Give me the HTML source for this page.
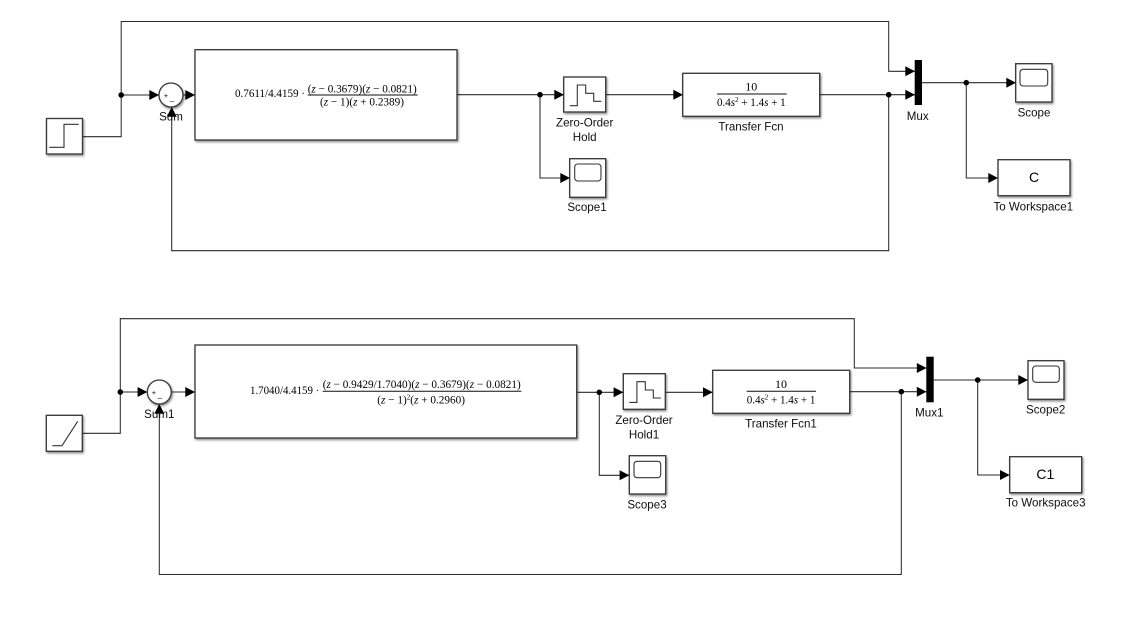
<!DOCTYPE html>
<html>
<head>
<meta charset="utf-8">
<style>
html,body{margin:0;padding:0;background:#fff;width:1128px;height:625px;overflow:hidden}
svg{display:block}
.l{fill:none;stroke:#2a2a2a;stroke-width:1.05}
.b{fill:#fff;stroke:#3a3a3a;stroke-width:1.35;filter:url(#sh)}
.i{fill:none;stroke:#333;stroke-width:1.1}
.t{font-family:"Liberation Sans",sans-serif;font-size:11.6px;fill:#111;text-anchor:middle}
.c{font-family:"Liberation Sans",sans-serif;font-size:14px;fill:#000;text-anchor:middle}
.m{font-family:"Liberation Serif",serif;font-size:12px;fill:#000}
.mc{font-family:"Liberation Serif",serif;font-size:12px;fill:#000;text-anchor:middle}
.f{stroke:#111;stroke-width:1}
</style>
</head>
<body>
<svg width="1128" height="625" viewBox="0 0 1128 625" xmlns="http://www.w3.org/2000/svg">
<defs>
<filter id="sh" x="-20%" y="-20%" width="140%" height="140%"><feDropShadow dx="1" dy="1.5" stdDeviation="1" flood-color="#000" flood-opacity="0.45"/></filter>
<filter id="soft" filterUnits="userSpaceOnUse" x="0" y="0" width="1128" height="625"><feGaussianBlur stdDeviation="0.36"/></filter>
<polygon id="r" points="-9.7,-5 0,0 -9.7,5" fill="#000"/>
<polygon id="u" points="-5,9.7 0,0 5,9.7" fill="#000"/>
</defs>
<g filter="url(#soft)">

<!-- TOP DIAGRAM: wires -->
<path class="l" d="M82 136.7H121.2V21.5H888.7V71.3H915"/>
<path class="l" d="M121.2 95H159"/>
<path class="l" d="M183 95H195"/>
<path class="l" d="M457 94.7H564"/>
<path class="l" d="M540 94.7V178H570"/>
<path class="l" d="M605.7 94.7H683"/>
<path class="l" d="M819.7 94.7H915"/>
<path class="l" d="M888.7 94.7V250.7H171.7V107"/>
<path class="l" d="M922 82.7H1016"/>
<path class="l" d="M966.3 82.7V178H998"/>

<!-- TOP blocks -->
<rect class="b" x="46.5" y="118.5" width="36" height="35.5"/>
<path class="i" d="M49.3 147.3H64V124.3H78.7"/>
<rect class="b" x="195" y="49.7" width="262" height="90.3"/>
<circle class="b" cx="171" cy="95" r="12"/>
<text x="166" y="98" font-family="Liberation Sans,sans-serif" font-size="7.5" fill="#111" text-anchor="middle">+</text>
<text x="172" y="100" font-family="Liberation Sans,sans-serif" font-size="8" fill="#111" text-anchor="middle">_</text>
<rect class="b" x="563.7" y="77" width="42" height="35"/>
<path class="i" d="M569.7 105.7H577.3V85H585.7V93.3H593.7V101.3H601.3"/>
<rect class="b" x="569.7" y="158.7" width="36" height="38.6"/>
<rect class="i" x="574.7" y="164" width="26.3" height="17" rx="3" stroke-width="1.2"/>
<rect class="b" x="682.7" y="73.3" width="137" height="43"/>
<rect x="914.7" y="60" width="7.3" height="45" fill="#000"/>
<rect class="b" x="1015.7" y="63.7" width="36.3" height="38.3"/>
<rect class="i" x="1020" y="69.3" width="27.7" height="16.7" rx="3" stroke-width="1.2"/>
<rect class="b" x="998" y="159.7" width="72" height="36"/>

<!-- TOP formula -->
<text class="m" x="235" y="97" textLength="70" lengthAdjust="spacingAndGlyphs">0.7611/4.4159 ·</text>
<text class="m" x="307.7" y="92.5" textLength="109" lengthAdjust="spacingAndGlyphs">(<tspan font-style="italic">z</tspan> − 0.3679)(<tspan font-style="italic">z</tspan> − 0.0821)</text>
<line class="f" x1="307.7" y1="95" x2="417.7" y2="95"/>
<text class="m" x="320" y="105.5" textLength="84" lengthAdjust="spacingAndGlyphs">(<tspan font-style="italic">z</tspan> − 1)(<tspan font-style="italic">z</tspan> + 0.2389)</text>
<text class="mc" x="751.3" y="90.5">10</text>
<line class="f" x1="717" y1="94" x2="786.7" y2="94"/>
<text class="m" x="717" y="106" textLength="68.7" lengthAdjust="spacingAndGlyphs">0.4<tspan font-style="italic">s</tspan><tspan font-size="7.5" dy="-4">2</tspan><tspan dy="4"> + 1.4</tspan><tspan font-style="italic">s</tspan> + 1</text>

<!-- TOP labels -->
<text class="t" x="171" y="120.7">Sum</text>
<text class="t" x="584.7" y="126.7">Zero-Order</text>
<text class="t" x="584.7" y="141">Hold</text>
<text class="t" x="587" y="211">Scope1</text>
<text class="t" x="751" y="130.7">Transfer Fcn</text>
<text class="t" x="917.7" y="120">Mux</text>
<text class="t" x="1034" y="116.3">Scope</text>
<text class="c" x="1034" y="182">C</text>
<text class="t" x="1033.3" y="210.3">To Workspace1</text>

<!-- TOP arrows -->
<use href="#r" x="159" y="95"/>
<use href="#r" x="195" y="95"/>
<use href="#u" x="171.7" y="107"/>
<use href="#r" x="564" y="94.7"/>
<use href="#r" x="570" y="178"/>
<use href="#r" x="683" y="94.7"/>
<use href="#r" x="915" y="71.3"/>
<use href="#r" x="915" y="94.7"/>
<use href="#r" x="1016" y="82.7"/>
<use href="#r" x="998" y="178"/>

<!-- TOP junctions -->
<circle cx="121.2" cy="95" r="2.8" fill="#000"/>
<circle cx="540" cy="94.7" r="2.8" fill="#000"/>
<circle cx="888.7" cy="94.7" r="2.8" fill="#000"/>
<circle cx="966.3" cy="82.7" r="2.8" fill="#000"/>

<!-- BOTTOM DIAGRAM: wires -->
<path class="l" d="M82.3 433.3H120.3V318.7H854.3V368H927"/>
<path class="l" d="M120.3 392H147.3"/>
<path class="l" d="M171.3 392H195"/>
<path class="l" d="M576.7 392.3H623.3"/>
<path class="l" d="M599.3 392.3V475.3H629.3"/>
<path class="l" d="M665.3 392.3H712.7"/>
<path class="l" d="M849.7 391.7H926.3"/>
<path class="l" d="M901.3 391.7V574.5H159.3V404"/>
<path class="l" d="M933.7 380H1028"/>
<path class="l" d="M977.7 380V475H1009.7"/>

<!-- BOTTOM blocks -->
<rect class="b" x="46.3" y="415.3" width="36" height="36"/>
<path class="i" d="M52.3 445.7H62L77.7 421.3"/>
<rect class="b" x="195" y="345" width="381.7" height="93"/>
<circle class="b" cx="159.3" cy="392" r="12"/>
<text x="154" y="395" font-family="Liberation Sans,sans-serif" font-size="7.5" fill="#111" text-anchor="middle">+</text>
<text x="160" y="397" font-family="Liberation Sans,sans-serif" font-size="8" fill="#111" text-anchor="middle">_</text>
<rect class="b" x="623.3" y="373.7" width="42" height="35.6"/>
<path class="i" d="M629.3 402.4H636.9V381.7H645.3V390H653.3V398H660.9"/>
<rect class="b" x="629.3" y="455.7" width="36.4" height="38.3"/>
<rect class="i" x="634" y="461.3" width="26.7" height="16.4" rx="3" stroke-width="1.2"/>
<rect class="b" x="712.7" y="370.3" width="137" height="43"/>
<rect x="926.3" y="356.7" width="7.4" height="45.6" fill="#000"/>
<rect class="b" x="1028" y="360.7" width="36" height="38.6"/>
<rect class="i" x="1032.7" y="366" width="26.6" height="16.3" rx="3" stroke-width="1.2"/>
<rect class="b" x="1009.7" y="456.7" width="72" height="36"/>

<!-- BOTTOM formula -->
<text class="m" x="250" y="394" textLength="69.3" lengthAdjust="spacingAndGlyphs">1.7040/4.4159 ·</text>
<text class="m" x="322.7" y="388" textLength="198" lengthAdjust="spacingAndGlyphs">(<tspan font-style="italic">z</tspan> − 0.9429/1.7040)(<tspan font-style="italic">z</tspan> − 0.3679)(<tspan font-style="italic">z</tspan> − 0.0821)</text>
<line class="f" x1="322.7" y1="391.3" x2="521.3" y2="391.3"/>
<text class="m" x="377.3" y="403.3" textLength="87.7" lengthAdjust="spacingAndGlyphs">(<tspan font-style="italic">z</tspan> − 1)<tspan font-size="7.5" dy="-4">2</tspan><tspan dy="4">(</tspan><tspan font-style="italic">z</tspan> + 0.2960)</text>
<text class="mc" x="781" y="388">10</text>
<line class="f" x1="746.7" y1="391.3" x2="816" y2="391.3"/>
<text class="m" x="746.7" y="403.3" textLength="68.7" lengthAdjust="spacingAndGlyphs">0.4<tspan font-style="italic">s</tspan><tspan font-size="7.5" dy="-4">2</tspan><tspan dy="4"> + 1.4</tspan><tspan font-style="italic">s</tspan> + 1</text>

<!-- BOTTOM labels -->
<text class="t" x="159.3" y="418">Sum1</text>
<text class="t" x="644" y="424">Zero-Order</text>
<text class="t" x="644" y="438.7">Hold1</text>
<text class="t" x="647" y="508.3">Scope3</text>
<text class="t" x="781" y="427.3">Transfer Fcn1</text>
<text class="t" x="929.3" y="416.3">Mux1</text>
<text class="t" x="1045.7" y="413.3">Scope2</text>
<text class="c" x="1045.3" y="479">C1</text>
<text class="t" x="1045.7" y="506.7">To Workspace3</text>

<!-- BOTTOM arrows -->
<use href="#r" x="147.3" y="392"/>
<use href="#r" x="195" y="392"/>
<use href="#u" x="159.3" y="404"/>
<use href="#r" x="623.3" y="392.3"/>
<use href="#r" x="629.3" y="475.3"/>
<use href="#r" x="712.7" y="392.3"/>
<use href="#r" x="926.5" y="368"/>
<use href="#r" x="926.5" y="391.7"/>
<use href="#r" x="1028" y="380"/>
<use href="#r" x="1009.7" y="475"/>

<!-- BOTTOM junctions -->
<circle cx="120.3" cy="392" r="2.8" fill="#000"/>
<circle cx="599.3" cy="392.3" r="2.8" fill="#000"/>
<circle cx="901.3" cy="391.7" r="2.8" fill="#000"/>
<circle cx="977.7" cy="380" r="2.8" fill="#000"/>
</g>
</svg>
</body>
</html>
